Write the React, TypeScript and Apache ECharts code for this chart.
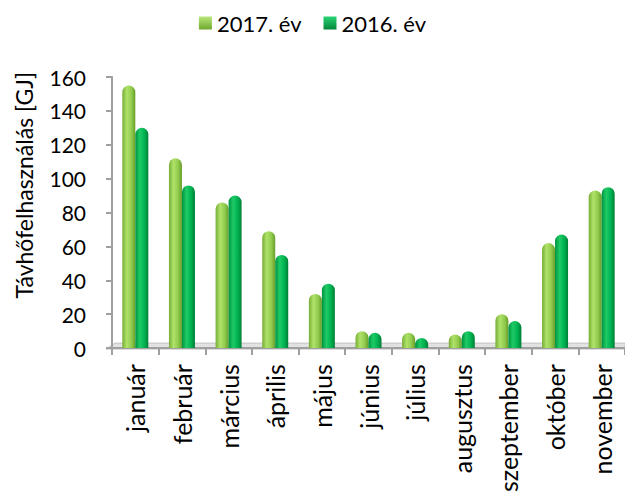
import React, { useEffect, useRef } from "react";
import * as echarts from "echarts";

const categories = [
  "január", "február", "március", "április", "május", "június",
  "július", "augusztus", "szeptember", "október", "november",
];
const seriesNames = ["2017. év", "2016. év"];
const values2017 = [155, 112, 86, 69, 32, 10, 9, 8, 20, 62, 93];
const values2016 = [130, 96, 90, 55, 38, 9, 6, 10, 16, 67, 95];
const yTicks = { min: 0, max: 160, interval: 20 };
const yAxisTitle = "Távhőfelhasználás [GJ]";

const FONT = "Lato, 'Open Sans', sans-serif";

const grad2017 = new echarts.graphic.LinearGradient(0, 0, 1, 0, [
  { offset: 0, color: "#76AE35" },
  { offset: 0.35, color: "#B0E26A" },
  { offset: 0.7, color: "#92CC4E" },
  { offset: 1, color: "#679E2A" },
]);
const grad2016 = new echarts.graphic.LinearGradient(0, 0, 1, 0, [
  { offset: 0, color: "#00923F" },
  { offset: 0.35, color: "#1ECB66" },
  { offset: 0.7, color: "#00B251" },
  { offset: 1, color: "#007F35" },
]);
const icon2017 = new echarts.graphic.LinearGradient(0, 0, 0, 1, [
  { offset: 0, color: "#B8E67A" },
  { offset: 1, color: "#6FA82E" },
]);
const icon2016 = new echarts.graphic.LinearGradient(0, 0, 0, 1, [
  { offset: 0, color: "#2BD474" },
  { offset: 1, color: "#00853A" },
]);

export default function App() {
  const ref = useRef<HTMLDivElement>(null);
  useEffect(() => {
    if (!ref.current) return;
    const chart = echarts.init(ref.current, undefined, { renderer: "svg" });
    const titleGraphic = {
      type: "text",
      left: 12,
      top: 72,
      rotation: Math.PI / 2,
      style: {
        text: yAxisTitle,
        fontSize: 23,
        fill: "#000",
        fontFamily: FONT,
      },
    };
    const option: any = {
      animation: false,
      backgroundColor: "#ffffff",
      textStyle: { fontFamily: FONT },
      legend: {
        top: 7,
        left: "center",
        itemWidth: 13,
        itemHeight: 13,
        itemGap: 22,
        textStyle: { fontSize: 22, color: "#000", fontFamily: FONT },
        data: [
          { name: seriesNames[0], icon: "rect", itemStyle: { color: icon2017 } },
          { name: seriesNames[1], icon: "rect", itemStyle: { color: icon2016 } },
        ],
      },
      grid: { left: 112, right: -10, top: 77, bottom: 144 },
      xAxis: {
        type: "category",
        data: categories,
        axisLine: { show: true, lineStyle: { color: "#A0A0A0", width: 2 } },
        axisTick: { show: true, length: 7, lineStyle: { color: "#A0A0A0", width: 2 } },
        axisLabel: {
          rotate: 90,
          margin: 16,
          fontSize: 25,
          color: "#000",
          fontFamily: FONT,
          interval: 0,
        },
      },
      yAxis: {
        type: "value",
        min: yTicks.min,
        max: yTicks.max,
        interval: yTicks.interval,
        axisLine: { show: true, lineStyle: { color: "#A0A0A0", width: 2 } },
        axisTick: { show: true, length: 6, lineStyle: { color: "#A0A0A0", width: 2 } },
        splitLine: { show: false },
        axisLabel: { margin: 26, fontSize: 21, color: "#000", fontFamily: FONT },
      },
      graphic: [titleGraphic],
      series: [
        {
          name: seriesNames[0],
          type: "bar",
          data: values2017,
          barWidth: 13,
          barGap: "0%",
          itemStyle: { color: grad2017, borderRadius: [6.5, 6.5, 0, 0] },
        },
        {
          name: seriesNames[1],
          type: "bar",
          data: values2016,
          barWidth: 13,
          barGap: "0%",
          itemStyle: { color: grad2016, borderRadius: [6.5, 6.5, 0, 0] },
        },
      ],
    };
    chart.setOption(option);
    // floor band under bars, derived from the grid rect computed by the library
    const grid: any = (chart as any).getModel().getComponent("grid").coordinateSystem.getRect();
    const y0 = grid.y + grid.height;
    const x0 = grid.x;
    const x1 = grid.x + grid.width;
    chart.setOption({
      graphic: [
        titleGraphic,
        {
          type: "polygon",
          silent: true,
          z: 0,
          shape: {
            points: [
              [x0 - 6, y0 + 1],
              [x0 + 3, y0 - 5],
              [x1, y0 - 5],
              [x1, y0 + 1],
            ],
          },
          style: { fill: "#E2E2E2", stroke: "#C4C4C4", lineWidth: 1 },
        },
      ],
    });
    return () => chart.dispose();
  }, []);
  return (
    <div
      ref={ref}
      style={{ position: "absolute", left: 0, top: 0, width: 625, height: 495 }}
    />
  );
}
